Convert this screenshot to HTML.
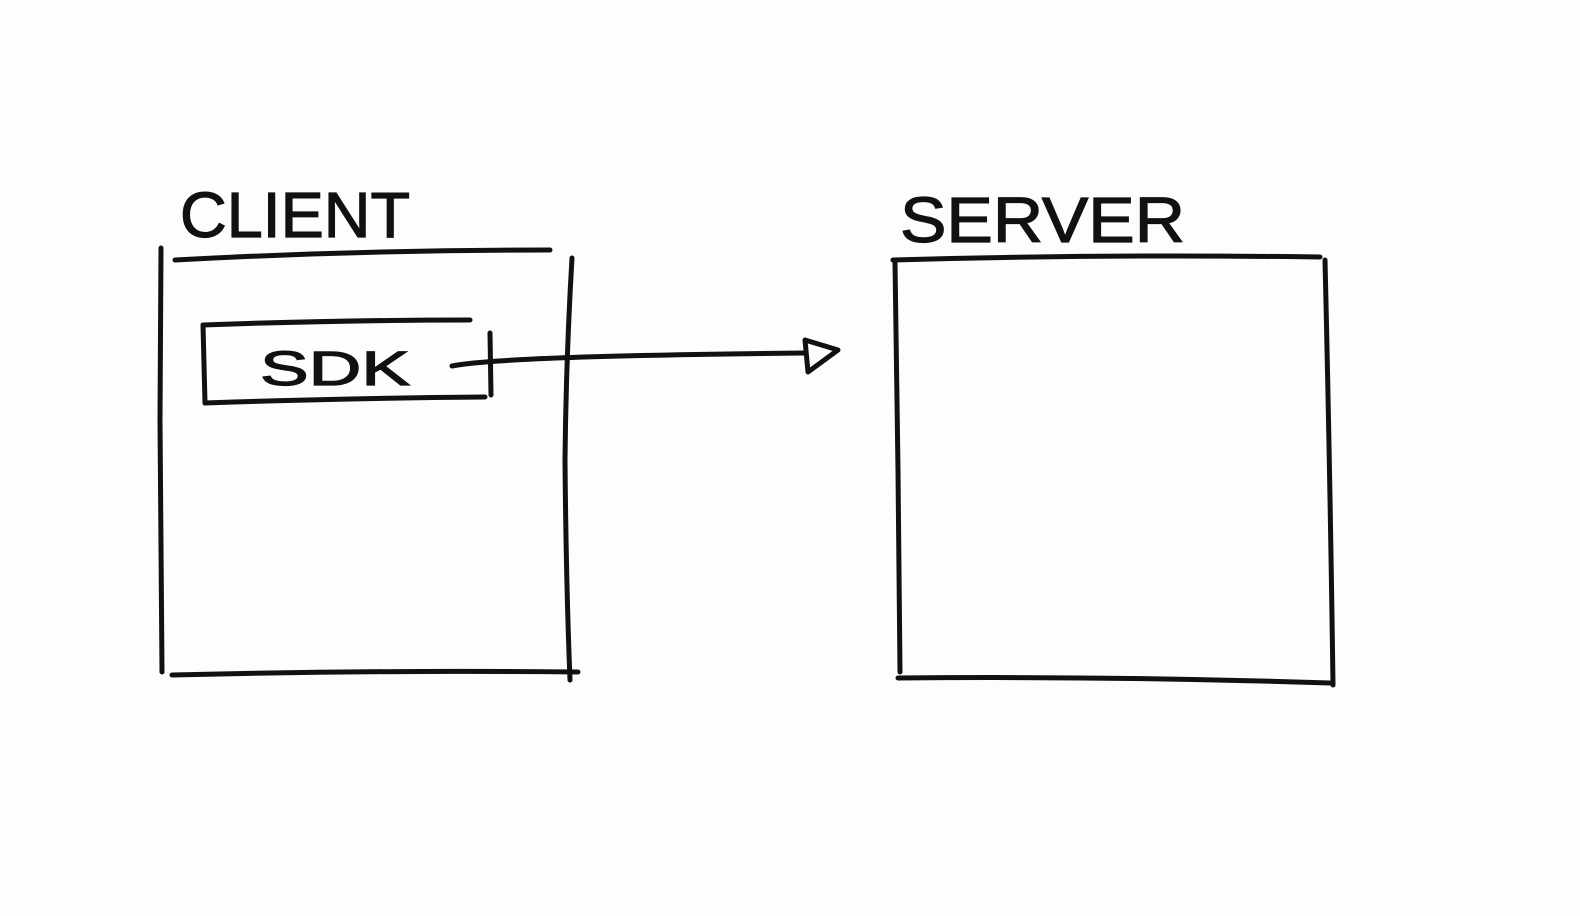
<!DOCTYPE html>
<html><head><meta charset="utf-8"><style>
html,body{margin:0;padding:0;background:#fdfdfb;}
svg{display:block}
text{font-family:"Liberation Sans",sans-serif;fill:#111;stroke:#111;stroke-width:1.2;}
</style></head><body>
<svg width="1580" height="916" viewBox="0 0 1580 916" xmlns="http://www.w3.org/2000/svg">
<rect width="1580" height="916" fill="#fdfdfb"/>
<g fill="none" stroke="#111" stroke-width="5" stroke-linecap="round" stroke-linejoin="round">
<path d="M161 248 L160 420 L162 672"/>
<path d="M175 260 Q360 250 550 250"/>
<path d="M572 258 Q566 360 565 460 Q566 580 570 680"/>
<path d="M172 675 Q370 670 578 672"/>
<path d="M203 325 Q340 320 470 320"/>
<path d="M203 325 L205 403"/>
<path d="M205 403 Q350 398 485 397"/>
<path d="M490 333 L491 395"/>
<path d="M452 366 Q500 356 805 353"/>
<path d="M805 340 L838 350 L808 372 Z"/>
<path d="M893 260 Q1100 254 1320 257"/>
<path d="M895 262 L898 470 L900 672"/>
<path d="M1325 260 Q1330 470 1333 685"/>
<path d="M898 678 Q1110 676 1330 683"/>
</g>
<text x="180" y="237" font-size="64" textLength="230" lengthAdjust="spacingAndGlyphs">CLIENT</text>
<text x="900" y="242" font-size="64" textLength="285" lengthAdjust="spacingAndGlyphs">SERVER</text>
<text x="260" y="385" font-size="48" textLength="150" lengthAdjust="spacingAndGlyphs">SDK</text>
</svg>
</body></html>
